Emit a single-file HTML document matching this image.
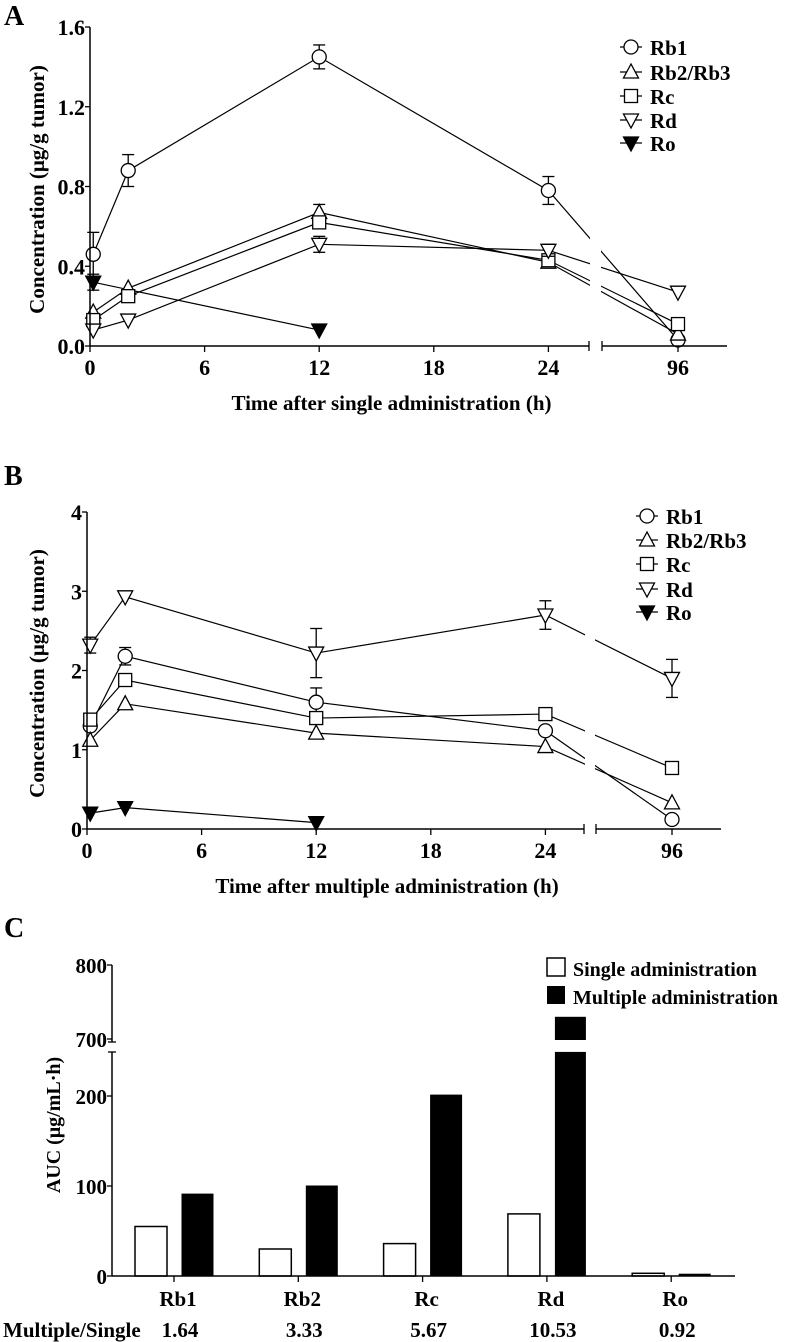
<!DOCTYPE html>
<html><head><meta charset="utf-8"><style>
html,body{margin:0;padding:0;background:#fff}
svg{display:block;font-family:"Liberation Serif",serif;font-weight:bold}
</style></head><body>
<svg id="fig" width="787" height="1342" viewBox="0 0 787 1342"></svg>
<script>
// ---- Panel A data ----
const timesA = [0.17, 2, 12, 24, 96];
const rb1A = [0.46, 0.88, 1.45, 0.78, 0.03];
const rb1AErr = [0.11, 0.08, 0.06, 0.07, 0];
const rb2A = [0.17, 0.29, 0.67, 0.42, 0.06];
const rb2AErr = [0, 0, 0.04, 0.02, 0];
const rcA = [0.13, 0.25, 0.62, 0.43, 0.11];
const rdA = [0.08, 0.13, 0.51, 0.48, 0.27];
const rdAErr = [0, 0, 0.04, 0.03, 0];
const roATimes = [0.17, 12];
const roA = [0.32, 0.08];
const roAErr = [0.04, 0];
const yTicksA = [0, 0.4, 0.8, 1.2, 1.6];
const yTickLabelsA = ["0.0", "0.4", "0.8", "1.2", "1.6"];
// ---- Panel B data ----
const timesB = [0.17, 2, 12, 24, 96];
const rdB = [2.32, 2.93, 2.22, 2.7, 1.9];
const rdBErr = [0.1, 0, 0.31, 0.18, 0.24];
const rb1B = [1.3, 2.18, 1.6, 1.24, 0.12];
const rb1BErr = [0, 0.11, 0.18, 0, 0];
const rcB = [1.38, 1.88, 1.4, 1.45, 0.77];
const rcBErr = [0, 0, 0, 0.05, 0.05];
const rb2B = [1.12, 1.58, 1.21, 1.04, 0.33];
const roBTimes = [0.17, 2, 12];
const roB = [0.2, 0.27, 0.08];
const yTicksB = [0, 1, 2, 3, 4];
const xTickVals = [0, 6, 12, 18, 24, 96];
// ---- Panel C data ----
const categoriesC = ["Rb1", "Rb2", "Rc", "Rd", "Ro"];
const singleC = [55, 30, 36, 69, 3];
const multipleC = [91, 100, 201, 730, 2];
const ratiosC = ["1.64", "3.33", "5.67", "10.53", "0.92"];

const NS = "http://www.w3.org/2000/svg";
const svg = document.getElementById('fig');
function mk(tag, attrs, parent, name) {
  const e = document.createElementNS(NS, tag);
  for (const k in attrs) e.setAttribute(k, attrs[k]);
  
  
  (parent || svg).appendChild(e);
  return e;
}
function txt(s, x, y, size, anchor, name, extra) {
  const t = mk('text', Object.assign({x: x, y: y, 'font-size': size, 'text-anchor': anchor || 'start'}, extra || {}), svg, name);
  t.textContent = s;
  return t;
}
function marker(type, x, y, name) {
  const r = 7;
  if (type === 'circle') mk('circle', {cx: x, cy: y, r: r, fill: '#fff', stroke: '#000', 'stroke-width': 1.3}, svg, name);
  else if (type === 'square') mk('rect', {x: x - 6.5, y: y - 6.5, width: 13, height: 13, fill: '#fff', stroke: '#000', 'stroke-width': 1.3}, svg, name);
  else if (type === 'up') mk('polygon', {points: `${x},${y-8} ${x-7.5},${y+6} ${x+7.5},${y+6}`, fill: '#fff', stroke: '#000', 'stroke-width': 1.3}, svg, name);
  else if (type === 'down') mk('polygon', {points: `${x},${y+8} ${x-7.5},${y-6} ${x+7.5},${y-6}`, fill: '#fff', stroke: '#000', 'stroke-width': 1.3}, svg, name);
  else if (type === 'downfill') mk('polygon', {points: `${x},${y+8} ${x-7.5},${y-6} ${x+7.5},${y-6}`, fill: '#000', stroke: '#000', 'stroke-width': 1.3}, svg, name);
}

function linePanel(cfg) {
  const xs = t => t <= 24 ? cfg.x0 + t * cfg.pxh : cfg.x96;
  const ys = v => cfg.y0 - (v - 0) / cfg.ymax * (cfg.y0 - cfg.ytop);
  const p = cfg.prefix;
  cfg.series.forEach(s => {
    const pts = s.t.map((t, i) => xs(t) + ',' + ys(s.v[i])).join(' ');
    mk('polyline', {points: pts, fill: 'none', stroke: '#000', 'stroke-width': 1.2}, svg, p + '-line-' + s.key);
  });
  mk('rect', {x: cfg.bx1 + 1, y: cfg.ytop - 10, width: cfg.bx2 - cfg.bx1 - 2, height: cfg.y0 - cfg.ytop + 5, fill: '#fff'}, svg, p + '-axis-break-gap');
  cfg.series.forEach(s => {
    s.t.forEach((t, i) => {
      const x = xs(t), y = ys(s.v[i]);
      if (s.err && s.err[i] > 0) {
        const e1 = ys(s.v[i] + s.err[i]), e2 = ys(s.v[i] - s.err[i]);
        mk('line', {x1: x, y1: e1, x2: x, y2: e2, stroke: '#000', 'stroke-width': 1.3}, svg, p + '-errorbar');
        mk('line', {x1: x - 6, y1: e1, x2: x + 6, y2: e1, stroke: '#000', 'stroke-width': 1.3}, svg, p + '-errorcap');
        mk('line', {x1: x - 6, y1: e2, x2: x + 6, y2: e2, stroke: '#000', 'stroke-width': 1.3}, svg, p + '-errorcap');
      }
      marker(s.m, x, y, p + '-point-' + s.key);
    });
  });
  mk('line', {x1: cfg.x0, y1: cfg.ytop, x2: cfg.x0, y2: cfg.y0, stroke: '#000', 'stroke-width': 1.5}, svg, p + '-y-axis');
  mk('line', {x1: cfg.x0, y1: cfg.y0, x2: cfg.bx1, y2: cfg.y0, stroke: '#000', 'stroke-width': 1.5}, svg, p + '-x-axis');
  mk('line', {x1: cfg.bx2, y1: cfg.y0, x2: cfg.xend, y2: cfg.y0, stroke: '#000', 'stroke-width': 1.5}, svg, p + '-x-axis-right');
  [cfg.bx1, cfg.bx2].forEach(bx => mk('line', {x1: bx, y1: cfg.y0 - 5, x2: bx, y2: cfg.y0 + 5, stroke: '#000', 'stroke-width': 1.3}, svg, p + '-break-mark'));
  cfg.yt.forEach((v, i) => {
    const y = ys(v);
    mk('line', {x1: cfg.x0 - 5, y1: y, x2: cfg.x0, y2: y, stroke: '#000', 'stroke-width': 1.3}, svg, p + '-y-tick');
    txt(cfg.ytl[i], cfg.x0 - 5, y + 8, 22, 'end', p + '-y-tick-label');
  });
  xTickVals.forEach(t => {
    const x = xs(t);
    mk('line', {x1: x, y1: cfg.y0, x2: x, y2: cfg.y0 + 6, stroke: '#000', 'stroke-width': 1.3}, svg, p + '-x-tick');
    txt(String(t), x, cfg.y0 + 29, 22, 'middle', p + '-x-tick-label');
  });
  const names = ["Rb1", "Rb2/Rb3", "Rc", "Rd", "Ro"], ms = ['circle', 'up', 'square', 'down', 'downfill'];
  names.forEach((n, i) => {
    const y = cfg.legY[i];
    mk('line', {x1: cfg.legX - 11, y1: y, x2: cfg.legX + 11, y2: y, stroke: '#000', 'stroke-width': 1.2}, svg, p + '-legend-line');
    marker(ms[i], cfg.legX, y, p + '-legend-marker');
    txt(n, cfg.legX + 19, y + 8, 21, 'start', p + '-legend-entry');
  });
  txt(cfg.xtitle, (cfg.x0 + cfg.xend) / 2 - 17, cfg.y0 + 64, 21, 'middle', p + '-x-axis-title');
  txt('Concentration (μg/g tumor)', 0, 0, 21, 'middle', p + '-y-axis-title', {transform: `translate(${cfg.ytx},${(cfg.ytop + cfg.y0) / 2 + 3}) rotate(-90)`});
}

txt('A', 4, 25, 28, 'start', 'panel-a-label');
linePanel({prefix: 'a', x0: 90, pxh: 19.1, x96: 678, bx1: 589, bx2: 602, xend: 727, y0: 346, ytop: 27, ymax: 1.6,
  yt: yTicksA, ytl: yTickLabelsA, legX: 631, legY: [47, 72, 96, 120, 143], ytx: 44,
  xtitle: 'Time after single administration (h)',
  series: [
    {key: 'rb1', t: timesA, v: rb1A, err: rb1AErr, m: 'circle'},
    {key: 'rb2', t: timesA, v: rb2A, err: rb2AErr, m: 'up'},
    {key: 'rc', t: timesA, v: rcA, m: 'square'},
    {key: 'rd', t: timesA, v: rdA, err: rdAErr, m: 'down'},
    {key: 'ro', t: roATimes, v: roA, err: roAErr, m: 'downfill'}]});

txt('B', 4, 485, 28, 'start', 'panel-b-label');
linePanel({prefix: 'b', x0: 87, pxh: 19.1, x96: 672, bx1: 584, bx2: 596, xend: 721, y0: 829, ytop: 512, ymax: 4,
  yt: yTicksB, ytl: yTicksB.map(String), legX: 647, legY: [516, 540, 564, 589, 612], ytx: 44,
  xtitle: 'Time after multiple administration (h)',
  series: [
    {key: 'rd', t: timesB, v: rdB, err: rdBErr, m: 'down'},
    {key: 'rb1', t: timesB, v: rb1B, err: rb1BErr, m: 'circle'},
    {key: 'rc', t: timesB, v: rcB, err: rcBErr, m: 'square'},
    {key: 'rb2', t: timesB, v: rb2B, m: 'up'},
    {key: 'ro', t: roBTimes, v: roB, m: 'downfill'}]});

// ---- Panel C ----
txt('C', 4, 937, 28, 'start', 'panel-c-label');
const cx0 = 112, cy0 = 1276, cxend = 735;
const yLow = v => cy0 - v * 0.9;
const yHigh = v => 1039 - (v - 700) * 0.74;
const yC = v => v <= 249 ? yLow(v) : Math.min(yHigh(v), 1040);
const catX = i => 174 + i * 124.3;
categoriesC.forEach((c, i) => {
  const xc = catX(i);
  const sv = singleC[i], mv = multipleC[i];
  mk('rect', {x: xc - 39, y: yC(sv), width: 32, height: cy0 - yC(sv), fill: '#fff', stroke: '#000', 'stroke-width': 1.5}, svg, 'bar-single-' + c);
  if (mv > 249) {
    mk('rect', {x: xc + 8, y: yLow(249), width: 31, height: cy0 - yLow(249), fill: '#000'}, svg, 'bar-multiple-' + c);
    mk('rect', {x: xc + 8, y: yHigh(mv), width: 31, height: 1040 - yHigh(mv), fill: '#000'}, svg, 'bar-multiple-upper-' + c);
  } else {
    mk('rect', {x: xc + 8, y: yC(mv), width: 31, height: cy0 - yC(mv), fill: '#000', stroke: '#000', 'stroke-width': 1}, svg, 'bar-multiple-' + c);
  }
  mk('line', {x1: xc, y1: cy0, x2: xc, y2: cy0 + 6, stroke: '#000', 'stroke-width': 1.3}, svg, 'c-x-tick');
  txt(c, xc + 4, 1306, 21, 'middle', 'category-label-' + c);
  txt(ratiosC[i], xc + 6, 1337, 21, 'middle', 'ratio-' + c);
});
txt('Multiple/Single', 3, 1337, 21, 'start', 'ratio-row-label');
mk('line', {x1: cx0, y1: cy0, x2: cxend, y2: cy0, stroke: '#000', 'stroke-width': 1.5}, svg, 'c-x-axis');
mk('line', {x1: cx0, y1: cy0, x2: cx0, y2: 1052, stroke: '#000', 'stroke-width': 1.5}, svg, 'c-y-axis-lower');
mk('line', {x1: cx0, y1: 1042, x2: cx0, y2: 965, stroke: '#000', 'stroke-width': 1.5}, svg, 'c-y-axis-upper');
mk('line', {x1: cx0 - 4, y1: 1052, x2: cx0 + 4, y2: 1052, stroke: '#000', 'stroke-width': 1.3}, svg, 'c-break-mark');
mk('line', {x1: cx0 - 4, y1: 1042, x2: cx0 + 4, y2: 1042, stroke: '#000', 'stroke-width': 1.3}, svg, 'c-break-mark');
[[0, yLow(0)], [100, yLow(100)], [200, yLow(200)], [700, yHigh(700)], [800, yHigh(800)]].forEach(([v, y]) => {
  mk('line', {x1: cx0 - 5, y1: y, x2: cx0, y2: y, stroke: '#000', 'stroke-width': 1.3}, svg, 'c-y-tick');
  txt(String(v), cx0 - 5, y + 8, 21, 'end', 'c-y-tick-label');
});
txt('AUC (μg/mL·h)', 0, 0, 20, 'middle', 'c-y-axis-title', {transform: 'translate(60,1125) rotate(-90)'});
mk('rect', {x: 547, y: 958, width: 18, height: 18, fill: '#fff', stroke: '#000', 'stroke-width': 1.5}, svg, 'legend-swatch-single');
txt('Single administration', 573, 976, 20, 'start', 'legend-entry-single');
mk('rect', {x: 547, y: 986, width: 18, height: 18, fill: '#000'}, svg, 'legend-swatch-multiple');
txt('Multiple administration', 573, 1004, 20, 'start', 'legend-entry-multiple');
</script>
</body></html>
